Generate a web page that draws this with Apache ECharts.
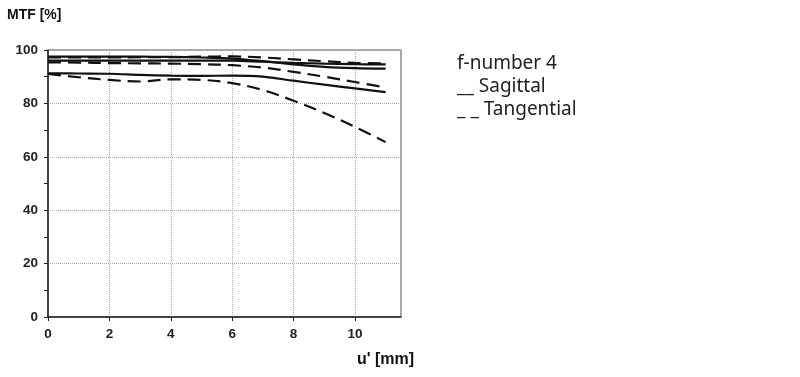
<!DOCTYPE html>
<html>
<head>
<meta charset="utf-8">
<script src="https://cdn.jsdelivr.net/npm/echarts@6/dist/echarts.min.js"></script>
<style>html,body{margin:0;padding:0;background:#fff}#c{width:800px;height:377px}</style>
</head>
<body>
<div id="c"></div>
<script>
var xValues = [0,1,2,3,4,5,6,7,8,9,10,11];
var sagittalTop = [97.5,97.5,97.5,97.5,97.4,97.2,96.8,95.8,94.6,93.7,93.2,93.0];
var sagittalMid = [96.0,96.0,96.0,96.0,96.0,96.0,96.0,95.6,95.2,94.9,94.7,94.6];
var sagittalLow = [91.3,91.2,91.1,90.7,90.4,90.3,90.4,90.0,88.5,87.0,85.6,84.2];
var tangentialTop = [97.2,97.2,97.2,97.3,97.3,97.5,97.6,97.2,96.5,95.8,95.2,95.0];
var tangentialMid = [95.4,95.3,95.1,95.0,94.9,94.7,94.3,93.4,91.8,90.0,88.0,86.0];
var tangentialLow = [91.0,89.8,88.8,88.2,89.0,88.8,87.6,85.0,81.0,76.4,71.2,65.5];
var yTicks = [0,20,40,60,80,100];
var xTicks = [0,2,4,6,8,10];

function pairs(arr){ return xValues.map(function(x,i){ return [x, arr[i]]; }); }
function mk(arr, dashed){
  return {
    type:'line', data:pairs(arr), smooth:0.35, showSymbol:false, symbol:'none',
    lineStyle:{color:'#111', width:2.2, type: dashed ? [13,7] : 'solid'},
    silent:true, animation:false
  };
}
var chart = echarts.init(document.getElementById('c'), null, {renderer:'canvas'});
var labelFont = {fontFamily:'Liberation Sans, Arial, sans-serif', fontWeight:'bold', fontSize:13.5, color:'#222'};
chart.setOption({
  animation:false,
  grid:{left:48, right:399, top:50, bottom:60, show:true, borderColor:'#555', borderWidth:1},
  xAxis:{
    type:'value', min:0, max:11.5, interval:2,
    axisLine:{show:true, lineStyle:{color:'#222', width:1.5}},
    axisTick:{show:true, length:4, lineStyle:{color:'#222'}},
    axisLabel:Object.assign({margin:10, showMaxLabel:false, formatter:function(v){ return xTicks.indexOf(v)>=0 ? String(v) : ''; }}, labelFont),
    splitLine:{show:true, lineStyle:{color:'#aaa', type:'dotted', width:1}}
  },
  yAxis:{
    type:'value', min:0, max:100, interval:20,
    axisLine:{show:true, lineStyle:{color:'#222', width:1.5}},
    axisTick:{show:true, length:4, lineStyle:{color:'#222'}},
    minorTick:{show:true, splitNumber:2, length:4, lineStyle:{color:'#222'}},
    axisLabel:Object.assign({margin:10, formatter:function(v){ return yTicks.indexOf(v)>=0 ? String(v) : ''; }}, labelFont),
    splitLine:{show:true, lineStyle:{color:'#aaa', type:'dotted', width:1}}
  },
  series:[
    mk(sagittalTop,false), mk(sagittalMid,false), mk(sagittalLow,false),
    mk(tangentialTop,true), mk(tangentialMid,true), mk(tangentialLow,true)
  ],
  graphic:[
    {type:'text', left:7, top:8, style:{text:'MTF [%]', font:'bold 14px "Liberation Sans", Arial, sans-serif', fill:'#111'}},
    {type:'text', left:357, top:352, style:{text:"u' [mm]", font:'bold 16px "Liberation Sans", Arial, sans-serif', fill:'#111'}},
    {type:'text', left:457, top:54, style:{text:'f-number 4', font:'19px "Noto Sans", "Open Sans", sans-serif', fill:'#222'}},
    {type:'text', left:457, top:77, style:{text:'__ Sagittal', font:'19px "Noto Sans", "Open Sans", sans-serif', fill:'#222'}},
    {type:'text', left:457, top:100, style:{text:'_ _ Tangential', font:'19px "Noto Sans", "Open Sans", sans-serif', fill:'#222'}}
  ]
});
</script>
</body>
</html>
